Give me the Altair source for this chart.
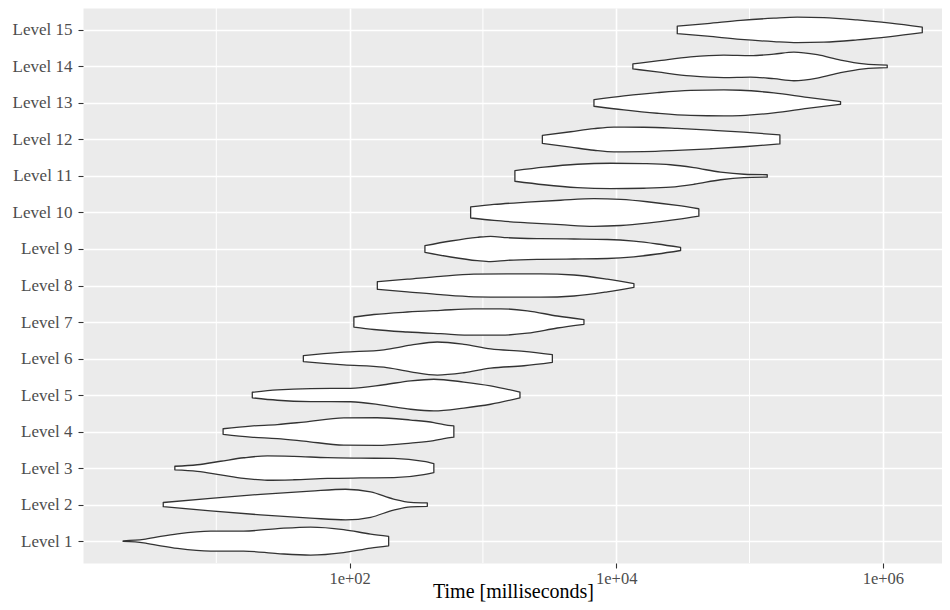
import altair as alt
import pandas as pd

LEVEL_NAMES = [f"Level {i}" for i in range(1, 16)]
X_TICKS = [1e2, 1e4, 1e6]
X_TICK_LABELS = ["1e+02", "1e+04", "1e+06"]
X_MINOR = [1e1, 1e3, 1e5]
X_TITLE = "Time [milliseconds]"

# Each violin: log10(time in ms) sample points and the half-width of the violin there
L1_T = [0.301, 0.455, 0.582, 0.710, 0.957, 1.205, 1.460, 1.707, 1.955, 2.158, 2.293]
L1_W = [0.3, 1.7, 4.7, 7.3, 10.0, 10.0, 12.5, 14.0, 11.5, 7.0, 4.7]
L2_T = [0.602, 0.957, 1.332, 1.707, 1.970, 2.158, 2.330, 2.458, 2.583]
L2_W = [2.1, 6.3, 10.3, 13.5, 15.3, 12.7, 5.5, 2.2, 1.7]
L3_T = [0.689, 0.857, 1.032, 1.207, 1.383, 1.582, 1.833, 2.083, 2.332, 2.557, 2.632]
L3_W = [1.8, 3.3, 6.8, 10.3, 12.2, 11.7, 10.4, 9.9, 9.6, 6.6, 4.5]
L4_T = [1.051, 1.257, 1.458, 1.657, 1.957, 2.208, 2.458, 2.632, 2.707, 2.782]
L4_W = [2.8, 5.5, 7.0, 9.5, 13.6, 13.8, 11.5, 9.0, 7.0, 5.6]
L5_T = [1.270, 1.458, 1.707, 2.008, 2.257, 2.458, 2.632, 2.857, 3.058, 3.278]
L5_W = [2.8, 5.2, 6.5, 6.7, 10.3, 14.2, 15.8, 13.0, 9.2, 2.8]
L6_T = [1.653, 1.807, 1.957, 2.257, 2.458, 2.658, 2.857, 3.058, 3.308, 3.521]
L6_W = [3.0, 4.8, 6.3, 8.7, 13.3, 16.5, 14.2, 9.7, 7.2, 3.8]
L7_T = [2.032, 2.182, 2.433, 2.683, 2.932, 3.133, 3.333, 3.558, 3.758]
L7_W = [5.0, 7.5, 10.0, 11.7, 13.2, 13.2, 11.2, 6.0, 2.3]
L8_T = [2.208, 2.433, 2.683, 2.932, 3.183, 3.433, 3.683, 3.933, 4.133]
L8_W = [3.8, 6.3, 9.2, 11.3, 11.7, 11.7, 10.5, 6.3, 1.8]
L9_T = [2.565, 2.758, 2.958, 3.058, 3.183, 3.433, 3.683, 3.933, 4.133, 4.308, 4.483]
L9_W = [3.3, 8.0, 11.7, 12.7, 11.3, 10.3, 10.0, 9.5, 7.8, 5.0, 1.5]
L10_T = [2.908, 3.083, 3.333, 3.583, 3.833, 4.033, 4.233, 4.458, 4.620]
L10_W = [5.5, 8.0, 10.3, 12.2, 13.8, 13.0, 10.7, 7.0, 3.7]
L11_T = [3.240, 3.458, 3.708, 3.958, 4.208, 4.408, 4.583, 4.783, 4.958, 5.133]
L11_W = [5.3, 8.8, 11.7, 12.7, 12.3, 11.2, 8.3, 3.8, 1.7, 1.2]
L12_T = [3.446, 3.658, 3.833, 3.983, 4.208, 4.458, 4.708, 4.958, 5.228]
L12_W = [4.0, 7.7, 10.8, 12.4, 12.2, 11.0, 9.3, 7.3, 4.5]
L13_T = [3.833, 4.058, 4.308, 4.558, 4.808, 4.933, 5.183, 5.433, 5.683]
L13_W = [3.3, 7.0, 10.3, 12.5, 13.0, 12.7, 10.0, 5.5, 1.3]
L14_T = [4.125, 4.308, 4.558, 4.808, 5.008, 5.183, 5.333, 5.508, 5.683, 5.858, 6.033]
L14_W = [2.5, 5.5, 9.5, 11.2, 10.7, 12.3, 14.3, 11.7, 6.3, 2.5, 1.3]
L15_T = [4.458, 4.683, 4.933, 5.183, 5.358, 5.558, 5.808, 6.058, 6.296]
L15_W = [3.8, 6.3, 9.5, 11.7, 12.7, 12.3, 10.0, 6.7, 2.8]

VIOLINS = [
    (L1_T, L1_W), (L2_T, L2_W), (L3_T, L3_W), (L4_T, L4_W), (L5_T, L5_W),
    (L6_T, L6_W), (L7_T, L7_W), (L8_T, L8_W), (L9_T, L9_W), (L10_T, L10_W),
    (L11_T, L11_W), (L12_T, L12_W), (L13_T, L13_W), (L14_T, L14_W), (L15_T, L15_W),
]

WIDTH_UNIT = 36.5  # half-width units per level step
X_MAX_LOG = 6.444

rows = []
for lvl, (ts, ws) in enumerate(VIOLINS, start=1):
    for t, w in zip(ts, ws):
        rows.append({
            "level": lvl,
            "time": 10 ** t,
            "upper": lvl + w / WIDTH_UNIT,
            "lower": lvl - w / WIDTH_UNIT,
        })
df = pd.DataFrame(rows)
minor_df = pd.DataFrame({"time": X_MINOR})

FONT = "Liberation Serif"

x_label_expr = " : ".join(
    f"abs(datum.value - {v}) < {v * 1e-6} ? '{lab}'" for v, lab in zip(X_TICKS, X_TICK_LABELS)
) + " : ''"
y_label_expr = "[" + ", ".join(f"'{n}'" for n in LEVEL_NAMES) + "][datum.value - 1]"

xscale = alt.Scale(type="log", domain=[1, 10 ** X_MAX_LOG], nice=False)
xaxis = alt.Axis(
    values=X_TICKS,
    labelExpr=x_label_expr,
    title=X_TITLE,
    grid=True, gridColor="white", gridWidth=1.6,
    domain=False,
    ticks=True, tickColor="#333333", tickSize=5, tickWidth=1.1,
    labelColor="#4D4D4D", labelFont=FONT, labelFontSize=16.5, labelPadding=2,
    labelFlush=False,
    titleFont=FONT, titleFontSize=20, titleColor="black", titleFontWeight="normal",
    titleX=430, titleY=34, titleAlign="center", titleBaseline="alphabetic",
)
yaxis = alt.Axis(
    values=list(range(1, 16)),
    labelExpr=y_label_expr,
    title="",
    grid=True, gridColor="white", gridWidth=1.6,
    domain=False,
    ticks=True, tickColor="#333333", tickSize=5, tickWidth=1.1,
    labelColor="#4D4D4D", labelFont=FONT, labelFontSize=17, labelPadding=6,
)

minor = alt.Chart(minor_df).mark_rule(color="white", strokeWidth=1.0).encode(
    x=alt.X("time:Q", scale=xscale, axis=xaxis)
)

violins = alt.Chart(df).mark_area(
    fill="white", fillOpacity=1, stroke="#333333", strokeWidth=1.3,
    interpolate="monotone", strokeJoin="round",
).encode(
    x=alt.X("time:Q", scale=xscale, axis=xaxis),
    y=alt.Y("upper:Q", scale=alt.Scale(domain=[0.4, 15.6], nice=False, zero=False), axis=yaxis),
    y2="lower:Q",
    detail="level:N",
)

chart = alt.layer(minor, violins).properties(
    width=859, height=555,
    padding={"left": 75, "top": 0, "right": 0, "bottom": 39},
    autosize=alt.AutoSizeParams(type="none"),
    background="white",
).configure_view(fill="#EBEBEB", stroke="transparent")

chart.save("out.html", embed_options={"renderer": "svg", "actions": False})
